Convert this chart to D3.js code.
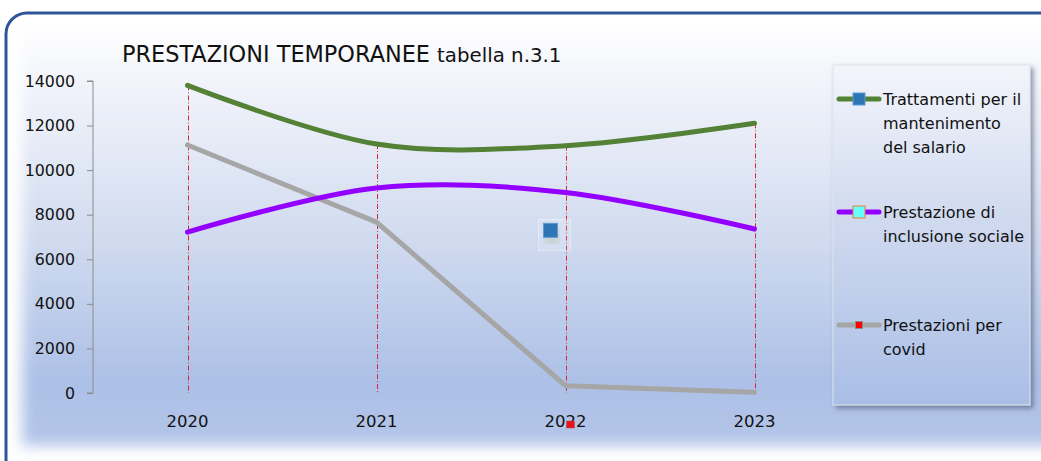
<!DOCTYPE html>
<html>
<head>
<meta charset="utf-8">
<script src="https://cdn.jsdelivr.net/npm/d3@7"></script>
<style>
  html, body { margin: 0; padding: 0; background: #ffffff; }
  svg { display: block; font-family: "DejaVu Sans", Verdana, sans-serif; }
</style>
</head>
<body>
<svg id="chart" width="1041" height="461"></svg>
<script>
// Data
var years = ["2020", "2021", "2022", "2023"];
var trattamenti = [13800, 11170, 11100, 12100];
var inclusione = [7220, 9200, 9000, 7360];
var covid = [11130, 7670, 330, 30];
var yTicks = [0, 2000, 4000, 6000, 8000, 10000, 12000, 14000];

var seriesNames = ["Trattamenti per il|mantenimento|del salario", "Prestazione di|inclusione sociale", "Prestazioni per|covid"];

// Style
var style = {
    left: 93,
    right: 849,
    top: 81,
    bottom: 393,
    lineWidth: 5
};
var colors = {
    green: "#538135",
    purple: "#9400ff",
    gray: "#a6a6a6",
    drop: "#d4283a",
    border: "#2f5597"
};

var svg = d3.select("#chart");
var defs = svg.append("defs");

var bg = defs.append("linearGradient").attr("id", "bg").attr("x1", 0).attr("y1", 0).attr("x2", 0).attr("y2", 1);
bg.append("stop").attr("offset", "0%").attr("stop-color", "#ffffff");
bg.append("stop").attr("offset", "18%").attr("stop-color", "#eef1f9");
bg.append("stop").attr("offset", "50%").attr("stop-color", "#d2dcf0");
bg.append("stop").attr("offset", "85%").attr("stop-color", "#acc0e6");
bg.append("stop").attr("offset", "100%").attr("stop-color", "#b3c5e8");

var lg = defs.append("linearGradient").attr("id", "lg").attr("x1", 0).attr("y1", 0).attr("x2", 0).attr("y2", 1);
lg.append("stop").attr("offset", "0%").attr("stop-color", "#f3f5fb");
lg.append("stop").attr("offset", "45%").attr("stop-color", "#d0daef");
lg.append("stop").attr("offset", "100%").attr("stop-color", "#a9bee6");

var blur = defs.append("filter").attr("id", "soft").attr("x", "-10%").attr("y", "-10%").attr("width", "120%").attr("height", "120%");
blur.append("feGaussianBlur").attr("stdDeviation", 7);

var shadow = defs.append("filter").attr("id", "shadow").attr("x", "-10%").attr("y", "-10%").attr("width", "130%").attr("height", "130%");
shadow.append("feDropShadow").attr("dx", 3).attr("dy", 3).attr("stdDeviation", 2.5)
    .attr("flood-color", "#3a4a66").attr("flood-opacity", 0.55);

var clip = defs.append("clipPath").attr("id", "inner");
clip.append("rect").attr("x", 7).attr("y", 14).attr("width", 1100).attr("height", 500).attr("rx", 20);

// Background panel
svg.append("rect").attr("x", 6).attr("y", 13).attr("width", 1100).attr("height", 500).attr("rx", 21)
    .attr("fill", "#ffffff");
svg.append("g").attr("clip-path", "url(#inner)")
    .append("rect")
    .attr("x", 22).attr("y", 22).attr("width", 1070).attr("height", 424)
    .attr("fill", "url(#bg)")
    .attr("filter", "url(#soft)");
svg.append("rect").attr("x", 6).attr("y", 13).attr("width", 1100).attr("height", 500).attr("rx", 21)
    .attr("fill", "none").attr("stroke", colors.border).attr("stroke-width", 3);

// Scales
var x = d3.scaleBand().domain(years).range([style.left, style.right]);
var y = d3.scaleLinear().domain([0, 14000]).range([style.bottom, style.top]);
var cx = function(d) { return x(d) + x.bandwidth() / 2; };

// Title
var title = svg.append("text").attr("x", 122).attr("y", 62).attr("fill", "#111");
title.append("tspan").attr("font-size", 22.4).text("PRESTAZIONI TEMPORANEE ");
title.append("tspan").attr("font-size", 19.8).text("tabella n.3.1");

// Y axis
var yAxis = svg.append("g")
    .attr("transform", "translate(" + style.left + ",0)")
    .call(d3.axisLeft(y).tickValues(yTicks).tickSize(6).tickPadding(12).tickFormat(d3.format("d")));
yAxis.select(".domain").attr("stroke", "#8c8c8c").attr("d", "M-6," + style.bottom + "H0V" + style.top + "H-6");
yAxis.selectAll(".tick line").attr("stroke", "#8c8c8c");
yAxis.selectAll(".tick text").attr("font-size", 15.8).attr("fill", "#111")
    .attr("font-family", "DejaVu Sans, sans-serif");

// X labels
svg.append("g").selectAll("text").data(years).join("text")
    .attr("x", cx).attr("y", 427)
    .attr("text-anchor", "middle")
    .attr("font-size", 16.5).attr("fill", "#111")
    .text(function(d) { return d; });

// Drop lines
var allSeries = [
    { name: seriesNames[0], values: trattamenti, color: colors.green, curve: d3.curveCardinal.tension(0) },
    { name: seriesNames[1], values: inclusione, color: colors.purple, curve: d3.curveCardinal.tension(0) },
    { name: seriesNames[2], values: covid, color: colors.gray, curve: d3.curveLinear }
];

var crisp = function(d) { return Math.round(cx(d)) + 0.5; };
svg.append("g").selectAll("line").data(years).join("line")
    .attr("x1", crisp).attr("x2", crisp)
    .attr("y1", function(d, i) { return y(d3.max(allSeries, function(s) { return s.values[i]; })); })
    .attr("y2", y(0))
    .attr("stroke", colors.drop).attr("stroke-width", 1)
    .attr("stroke-dasharray", "5,2,1,2");

// Series lines
var drawOrder = [allSeries[2], allSeries[0], allSeries[1]];
svg.append("g").selectAll("path").data(drawOrder).join("path")
    .attr("fill", "none")
    .attr("stroke", function(s) { return s.color; })
    .attr("stroke-width", style.lineWidth)
    .attr("stroke-linejoin", "round")
    .attr("stroke-linecap", "round")
    .attr("d", function(s) {
        return d3.line()
            .x(function(d, i) { return cx(years[i]); })
            .y(function(d) { return y(d); })
            .curve(s.curve)(s.values);
    });

// Stray markers left over in the picture
var stray = svg.append("g");
stray.append("rect").attr("x", cx("2022") - 27).attr("y", y(7300) - 11).attr("width", 32).attr("height", 31)
    .attr("fill", "#ffffff").attr("fill-opacity", 0.12).attr("stroke", "#ffffff").attr("stroke-opacity", 0.4);
stray.append("rect").attr("x", cx("2022") - 21).attr("y", y(7300) - 2).attr("width", 14).attr("height", 14)
    .attr("fill", "#8fb070").attr("opacity", 0.5).attr("filter", "url(#soft)");
stray.append("rect").attr("x", cx("2022") - 22).attr("y", y(7300) - 7).attr("width", 14).attr("height", 14)
    .attr("fill", "#2e75b6").attr("stroke", "#5b9bd5").attr("stroke-width", 1);
stray.append("rect").attr("x", cx("2022") + 1).attr("y", 421).attr("width", 8).attr("height", 7)
    .attr("fill", "#e8141c").attr("stroke", "#c0504d").attr("stroke-width", 0.5);

// Legend
var legend = svg.append("g");
legend.append("rect").attr("x", 833).attr("y", 65).attr("width", 197).attr("height", 340)
    .attr("fill", "url(#lg)").attr("stroke", "#dde3ee").attr("stroke-width", 1)
    .attr("filter", "url(#shadow)");

var legendItems = [
    { y: 99, color: colors.green, markFill: "#2e75b6", markStroke: "#5b9bd5", size: 12 },
    { y: 212, color: colors.purple, markFill: "#66ffff", markStroke: "#ed7d31", size: 12 },
    { y: 325, color: colors.gray, markFill: "#ff0000", markStroke: "#8c8c8c", size: 7 }
];

var item = legend.selectAll("g.item").data(allSeries).join("g").attr("class", "item")
    .attr("transform", function(s, i) { return "translate(0," + legendItems[i].y + ")"; });
item.append("line").attr("x1", 839).attr("x2", 879).attr("y1", 0).attr("y2", 0)
    .attr("stroke", function(s) { return s.color; }).attr("stroke-width", 5).attr("stroke-linecap", "round");
item.append("rect")
    .attr("x", function(s, i) { return 859 - legendItems[i].size / 2; })
    .attr("y", function(s, i) { return -legendItems[i].size / 2; })
    .attr("width", function(s, i) { return legendItems[i].size; })
    .attr("height", function(s, i) { return legendItems[i].size; })
    .attr("fill", function(s, i) { return legendItems[i].markFill; })
    .attr("stroke", function(s, i) { return legendItems[i].markStroke; })
    .attr("stroke-width", 1);
item.each(function(s) {
    var t = d3.select(this).append("text").attr("x", 883).attr("y", 6)
        .attr("font-size", 16).attr("fill", "#111");
    s.name.split("|").forEach(function(line, j) {
        t.append("tspan").attr("x", 883).attr("dy", j === 0 ? 0 : 24).text(line);
    });
});
</script>
</body>
</html>
